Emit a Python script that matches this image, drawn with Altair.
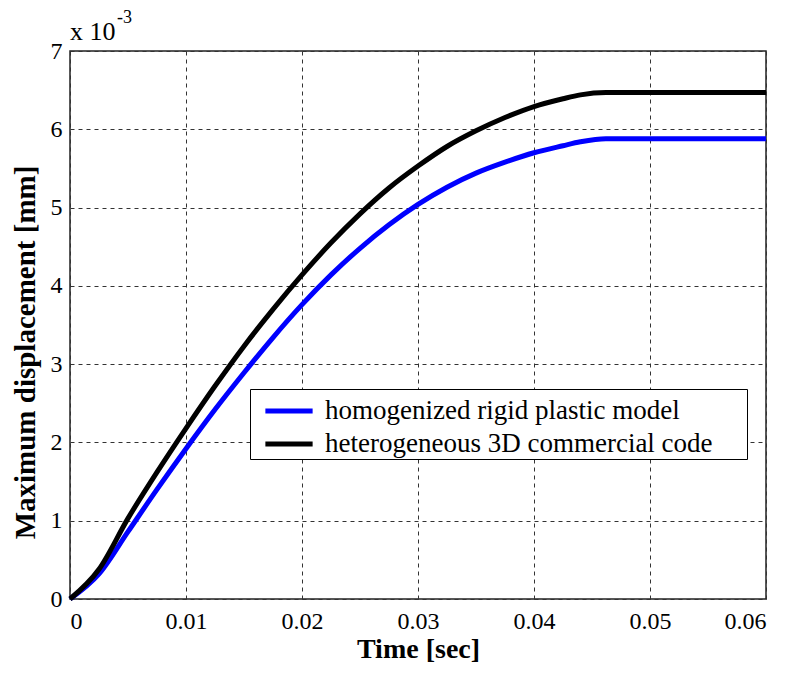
import altair as alt
import pandas as pd

t_vals = [0, 0.0025, 0.005, 0.0075, 0.01, 0.0125, 0.015, 0.0175, 0.02, 0.0225, 0.025,
          0.0275, 0.03, 0.0325, 0.035, 0.0375, 0.04, 0.0425, 0.044, 0.0462, 0.06]
homog = [0, 0.32, 0.86, 1.40, 1.92, 2.42, 2.89, 3.34, 3.76, 4.14, 4.48,
         4.78, 5.04, 5.26, 5.44, 5.58, 5.70, 5.79, 5.84, 5.88, 5.88]
heter = [0, 0.38, 1.03, 1.62, 2.18, 2.72, 3.23, 3.70, 4.14, 4.55, 4.92,
         5.25, 5.53, 5.78, 5.98, 6.15, 6.29, 6.39, 6.44, 6.47, 6.47]
series = ["homogenized rigid plastic model", "heterogeneous 3D commercial code"]
colors = ["#0000ff", "#000000"]
x_ticks = [0, 0.01, 0.02, 0.03, 0.04, 0.05, 0.06]
y_ticks = [0, 1, 2, 3, 4, 5, 6, 7]

rows = []
for i, t in enumerate(t_vals):
    rows.append({"t": t, "v": homog[i], "s": series[0], "o": 0})
for i, t in enumerate(t_vals):
    rows.append({"t": t, "v": heter[i], "s": series[1], "o": 1})
df = pd.DataFrame(rows)

FONT = "Liberation Serif, Times New Roman, DejaVu Serif, serif"
PAD = "\u2003\u2009\u200b"

lines = alt.Chart(df).mark_line(strokeWidth=5, interpolate="monotone").encode(
    x=alt.X("t:Q", scale=alt.Scale(domain=[0, 0.06], nice=False),
            axis=alt.Axis(values=x_ticks, title="Time [sec]",
                          labelExpr="datum.value == 0 ? '0' : format(datum.value, '.2f')",
                          labelFont=FONT, labelFontSize=24, labelPadding=10,
                          titleFont=FONT, titleFontSize=28, titlePadding=2)),
    y=alt.Y("v:Q", scale=alt.Scale(domain=[0, 7], nice=False),
            axis=alt.Axis(values=y_ticks, title="Maximum displacement [mm]",
                          labelFont=FONT, labelFontSize=24, labelPadding=8,
                          titleFont=FONT, titleFontSize=29, titlePadding=10, titleY=301)),
    color=alt.Color("s:N", scale=alt.Scale(domain=series, range=colors),
                    legend=alt.Legend(title=None, orient="none", legendX=180, legendY=338,
                                      symbolType="M-1.35,0L1.35,0", symbolSize=1225,
                                      symbolStrokeWidth=5, symbolOffset=17,
                                      symbolFillColor="transparent",
                                      labelFontSize=27,
                                      labelExpr="datum.label + '" + PAD + "'",
                                      labelFont=FONT, labelColor="black", labelOffset=16,
                                      fillColor="white", strokeColor="black",
                                      padding=2, rowPadding=0, labelLimit=900)),
    detail="s:N",
    order="o:Q",
)

mult = alt.Chart(pd.DataFrame({"a": [0]})).mark_text(
    text="x 10", font=FONT, fontSize=26, align="left", baseline="alphabetic", color="black"
).encode(x=alt.value(0), y=alt.value(-11))
sup = alt.Chart(pd.DataFrame({"a": [0]})).mark_text(
    text="-3", font=FONT, fontSize=18, align="left", baseline="alphabetic", color="black"
).encode(x=alt.value(47), y=alt.value(-28))

chart = alt.layer(lines, mult, sup).properties(
    width=696, height=548,
    autosize=alt.AutoSizeParams(type="none"),
    padding={"left": 62, "top": 43, "right": 21, "bottom": 66},
    background="white",
).configure_view(stroke="#222", strokeWidth=1.5).configure_axis(
    grid=True, gridDash=[4, 4], gridColor="#333", gridOpacity=1, gridWidth=1,
    domain=False, ticks=False,
    labelColor="black", labelFont=FONT, labelFontSize=24,
    titleFontWeight="bold", titleColor="black",
).configure_text(font=FONT)

chart.save("out.html", embed_options={"renderer": "svg", "actions": False})
